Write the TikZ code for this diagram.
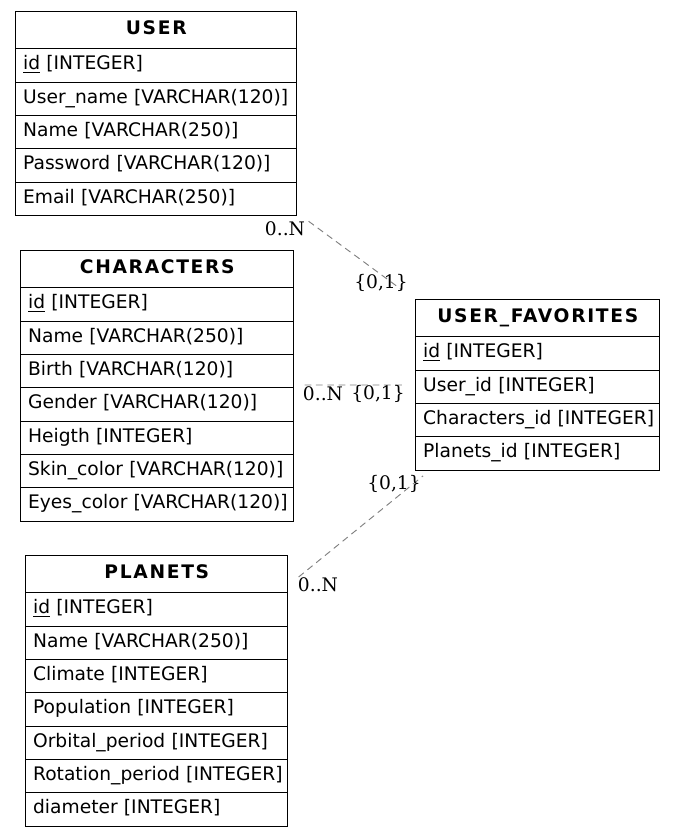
\documentclass[tikz,border=0pt]{standalone}
\usepackage{fontspec}
\setmainfont{DejaVu Sans}
\newfontfamily\cardfont{DejaVu Serif}
\begin{document}
\begin{tikzpicture}[x = 0.75pt, y = -0.75pt,
  every node/.style = {font = \fontsize{14}{17}\selectfont},
  entity/.style = {inner sep = 0pt, row sep = -0.8pt, anchor = north west},
  head/.style = {draw, line width = 0.8pt, inner xsep = 5.5pt, minimum height = 27.75pt, align = center, text depth = 3.8pt,
    font = \fontsize{14}{17}\selectfont\bfseries\addfontfeature{LetterSpace = 9}},
  field/.style = {draw, line width = 0.8pt, inner xsep = 5.5pt, minimum height = 25pt, align = left, text height = 10.6pt, text depth = 4pt,
    execute at begin node = {\hbox to \hsize\bgroup}, execute at end node = {\hfil\egroup}},
  card/.style = {font = \fontsize{14}{17}\selectfont\cardfont, inner sep = 1pt},
  rel/.style = {draw = gray, line width = 0.7pt, dash pattern = on 5pt off 3.5pt}]
  \useasboundingbox (0,0) rectangle (675,836);

  % tables
  \matrix (user) [entity, nodes = {text width = 199.75pt}] at (15,11) {
    \node[head](user-t) {USER}; \\
    \node[field](user-1) {\underline{id} [INTEGER]}; \\
    \node[field](user-2) {User\_name [VARCHAR(120)]}; \\
    \node[field](user-3) {Name [VARCHAR(250)]}; \\
    \node[field](user-4) {Password [VARCHAR(120)]}; \\
    \node[field](user-5) {Email [VARCHAR(250)]}; \\
  };
  \matrix (chars) [entity, nodes = {text width = 193.75pt}] at (20,250) {
    \node[head](chars-t) {CHARACTERS}; \\
    \node[field](chars-1) {\underline{id} [INTEGER]}; \\
    \node[field](chars-2) {Name [VARCHAR(250)]}; \\
    \node[field](chars-3) {Birth [VARCHAR(120)]}; \\
    \node[field](chars-4) {Gender [VARCHAR(120)]}; \\
    \node[field](chars-5) {Heigth [INTEGER]}; \\
    \node[field](chars-6) {Skin\_color [VARCHAR(120)]}; \\
    \node[field](chars-7) {Eyes\_color [VARCHAR(120)]}; \\
  };
  \matrix (planets) [entity, nodes = {text width = 185.5pt}] at (25,555) {
    \node[head](planets-t) {PLANETS}; \\
    \node[field](planets-1) {\underline{id} [INTEGER]}; \\
    \node[field](planets-2) {Name [VARCHAR(250)]}; \\
    \node[field](planets-3) {Climate [INTEGER]}; \\
    \node[field](planets-4) {Population [INTEGER]}; \\
    \node[field](planets-5) {Orbital\_period [INTEGER]}; \\
    \node[field](planets-6) {Rotation\_period [INTEGER]}; \\
    \node[field](planets-7) {diameter [INTEGER]}; \\
  };
  \matrix (fav) [entity, nodes = {text width = 172pt}] at (415,299) {
    \node[head](fav-t) {USER\_FAVORITES}; \\
    \node[field](fav-1) {\underline{id} [INTEGER]}; \\
    \node[field](fav-2) {User\_id [INTEGER]}; \\
    \node[field](fav-3) {Characters\_id [INTEGER]}; \\
    \node[field](fav-4) {Planets\_id [INTEGER]}; \\
  };

  % relation ends
  \coordinate (user-out) at ([shift = {(11,5)}]user.south east);
  \coordinate (fav-in1) at ([shift = {(-13,-9)}]fav.north west);
  \coordinate (chars-out) at ([shift = {(10,-1)}]chars.east);
  \coordinate (fav-in2) at ([shift = {(-10,0)}]fav.west);
  \coordinate (planets-out) at ([shift = {(10,22)}]planets.north east);
  \coordinate (fav-in3) at ([shift = {(8,5)}]fav.south west);

  \draw[rel] (user-out) -- (fav-in1);
  \draw[rel] (chars-out) -- (fav-in2);
  \draw[rel] (planets-out) -- (fav-in3);

  % cardinalities
  \node[card](user-n) at (285,229) {0..N};
  \node[card](fav-u) at (381,283) {\{0,1\}};
  \node[card](chars-n) at (323,394) {0..N};
  \node[card](fav-c) at (378,394) {\{0,1\}};
  \node[card](fav-p) at (394,484) {\{0,1\}};
  \node[card](planets-n) at (318,585) {0..N};
\end{tikzpicture}
\end{document}
